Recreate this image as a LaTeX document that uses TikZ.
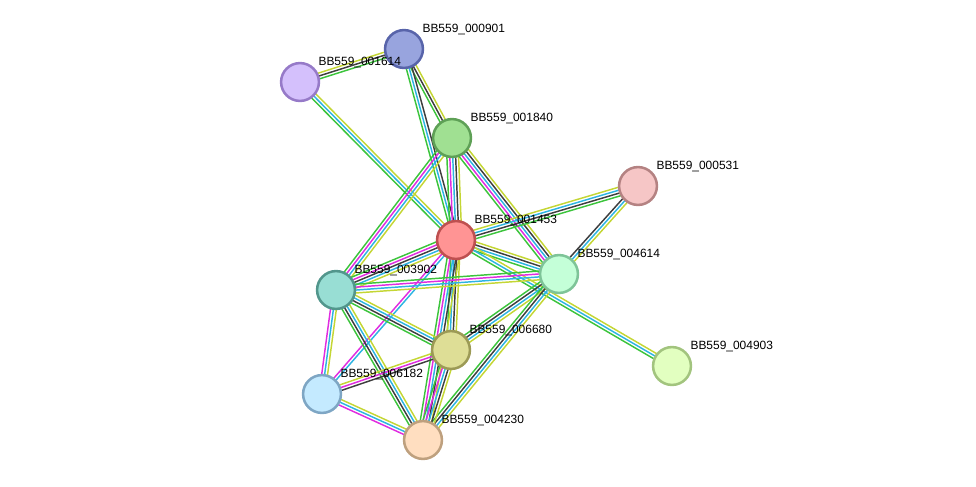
\documentclass[tikz,border=0pt]{standalone}
\usepackage{fontspec}
\setmainfont{Liberation Sans}
\usepackage{xcolor}
\usepackage{tikz}
\usetikzlibrary{calc,backgrounds}

\definecolor{sgreen}{RGB}{60,196,60}
\definecolor{scyan}{RGB}{45,180,226}
\definecolor{smag}{RGB}{224,44,224}
\definecolor{sdark}{RGB}{62,62,62}
\definecolor{syel}{RGB}{196,214,52}

\tikzset{
  prot/.style={draw, circle, line width=1.9pt, minimum size=28.5pt, inner sep=0pt},
  lbl/.style={font=\fontsize{9}{10}\selectfont, inner sep=1.5pt, xshift=1.5pt, yshift=-1.5pt}
}

% one coloured line per evidence channel, side by side
\newcommand{\bundle}[3]{%
  \foreach \c [count=\i] in {#3}{\xdef\nb{\i}}%
  \foreach \c [count=\i] in {#3}{%
    \pgfmathsetmacro{\off}{(\i-(\nb+1)/2)*2.2}%
    \draw[\c, line width=1.1pt] ($(#1)!\off pt!90:(#2)$) -- ($(#2)!\off pt!-90:(#1)$);
  }%
}

\begin{document}
\begin{tikzpicture}[x=0.02646cm, y=-0.02646cm]
          \useasboundingbox (0,0) rectangle (976,486);
          \node[prot, fill={rgb,255:red,152;green,164;blue,222}, draw={rgb,255:red,88;green,100;blue,170}, label={[lbl]45:BB559\_000901}] (n901) at (404,49) {};
          \node[prot, fill={rgb,255:red,212;green,192;blue,252}, draw={rgb,255:red,150;green,122;blue,200}, label={[lbl]45:BB559\_001614}] (n1614) at (300,82) {};
          \node[prot, fill={rgb,255:red,160;green,224;blue,146}, draw={rgb,255:red,94;green,160;blue,86}, label={[lbl]45:BB559\_001840}] (n1840) at (452,138) {};
          \node[prot, fill={rgb,255:red,246;green,198;blue,198}, draw={rgb,255:red,180;green,130;blue,130}, label={[lbl]45:BB559\_000531}] (n531) at (638,186) {};
          \node[prot, fill={rgb,255:red,255;green,148;blue,148}, draw={rgb,255:red,190;green,80;blue,80}, label={[lbl]45:BB559\_001453}] (n1453) at (456,240) {};
          \node[prot, fill={rgb,255:red,196;green,255;blue,216}, draw={rgb,255:red,126;green,196;blue,152}, label={[lbl]45:BB559\_004614}] (n4614) at (559,274) {};
          \node[prot, fill={rgb,255:red,152;green,222;blue,212}, draw={rgb,255:red,82;green,150;blue,140}, label={[lbl]45:BB559\_003902}] (n3902) at (336,290) {};
          \node[prot, fill={rgb,255:red,226;green,255;blue,192}, draw={rgb,255:red,162;green,196;blue,126}, label={[lbl]45:BB559\_004903}] (n4903) at (672,366) {};
          \node[prot, fill={rgb,255:red,222;green,222;blue,150}, draw={rgb,255:red,156;green,154;blue,86}, label={[lbl]45:BB559\_006680}] (n6680) at (451,350) {};
          \node[prot, fill={rgb,255:red,196;green,234;blue,255}, draw={rgb,255:red,126;green,166;blue,196}, label={[lbl]45:BB559\_006182}] (n6182) at (322,394) {};
          \node[prot, fill={rgb,255:red,255;green,222;blue,192}, draw={rgb,255:red,190;green,160;blue,126}, label={[lbl]45:BB559\_004230}] (n4230) at (423,440) {};
          \begin{pgfonlayer}{background}
            \bundle{n1614}{n901}{sgreen,sdark,syel}
            \bundle{n1614}{n1453}{sgreen,scyan,syel}
            \bundle{n901}{n1840}{sgreen,sdark,syel}
            \bundle{n901}{n1453}{sgreen,scyan,sdark}
            \bundle{n1840}{n1453}{sgreen,smag,scyan,sdark,syel}
            \bundle{n1840}{n4614}{sgreen,smag,scyan,sdark,syel}
            \bundle{n1840}{n3902}{sgreen,smag,scyan,syel}
            \bundle{n1453}{n531}{sgreen,sdark,scyan,syel}
            \bundle{n1453}{n4614}{sgreen,scyan,sdark,syel}
            \bundle{n1453}{n3902}{sgreen,smag,sdark,scyan,syel}
            \bundle{n1453}{n6680}{sgreen,scyan,sdark,syel}
            \bundle{n1453}{n4230}{sgreen,smag,scyan,sdark,syel}
            \bundle{n1453}{n6182}{smag,scyan}
            \bundle{n1453}{n4903}{sgreen,scyan,syel}
            \bundle{n531}{n4614}{sdark,scyan,syel}
            \bundle{n4614}{n3902}{sgreen,smag,scyan,syel}
            \bundle{n4614}{n6680}{sgreen,sdark,scyan,syel}
            \bundle{n4614}{n4230}{sgreen,sdark,scyan,syel}
            \bundle{n3902}{n6680}{sgreen,sdark,scyan,syel}
            \bundle{n3902}{n4230}{sgreen,sdark,scyan,syel}
            \bundle{n3902}{n6182}{smag,scyan,syel}
            \bundle{n6680}{n6182}{syel,smag,sdark}
            \bundle{n6680}{n4230}{sgreen,smag,scyan,sdark,syel}
            \bundle{n6182}{n4230}{smag,scyan,syel}
          \end{pgfonlayer}
        \end{tikzpicture}
\end{document}
